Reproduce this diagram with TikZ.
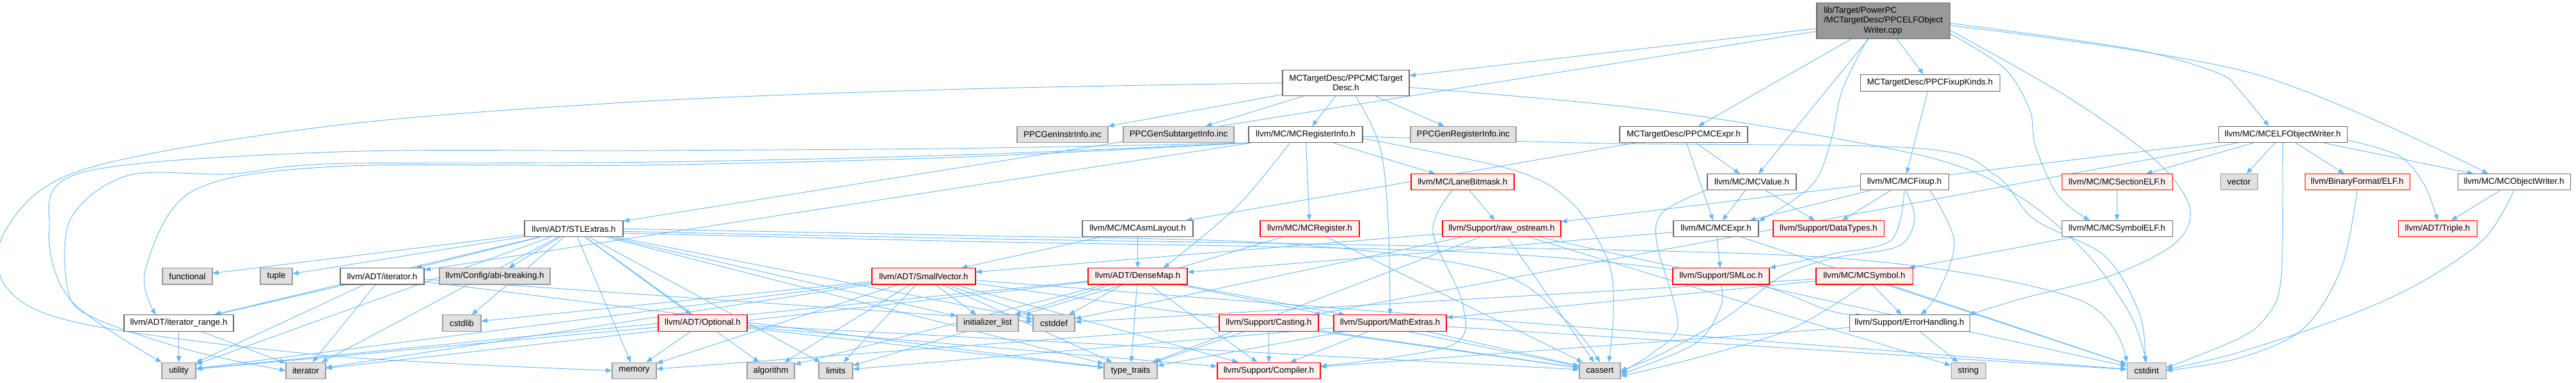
\documentclass[tikz,border=0pt]{standalone}
\usepackage{fontspec}
\setmainfont{Liberation Sans}
\usetikzlibrary{arrows.meta}
\definecolor{eb}{HTML}{63B8FF}
\definecolor{bwhite}{HTML}{666666}
\definecolor{bgray}{HTML}{999999}
\definecolor{fgray}{HTML}{E0E0E0}
\definecolor{fred}{HTML}{FFF0F0}
\definecolor{fmain}{HTML}{999999}
\pgfdeclarelayer{bg}
\pgfsetlayers{bg,main}
\newcommand{\mynode}[7]{\node[#6,minimum width={(#3-#2)*0.75pt},minimum height={(#5-#4)*0.856pt}] (#1) at ({(#2+#3)/2},{(#4+#5)/2}) {#7};}
\begin{document}
\begin{tikzpicture}[x=0.75pt,y=-0.856pt,font=\fontsize{10}{11.4}\selectfont,
 box/.style={rectangle,inner sep=0pt,line width=0.8pt,text=black},
 nwhite/.style={box,draw=bwhite,fill=white},
 ngray/.style={box,draw=bgray,fill=fgray},
 nred/.style={box,draw=red,fill=fred},
 nmain/.style={box,draw=bwhite,fill=fmain},
 e/.style={draw=eb,line width=0.7pt,-{Triangle[length=7pt,width=5.5pt]}},
 sm/.style={smooth,tension=0.55}]
\useasboundingbox (0,0) rectangle (4027,523.2);
% rows
\mynode{main}{2840}{3048}{4}{53}{nmain,align=left}{lib/Target/PowerPC\\/MCTargetDesc/PPCELFObject\\\hspace*{47pt}Writer.cpp}
\mynode{tdesc}{2005}{2203}{96}{131}{nwhite,align=center}{MCTargetDesc/PPCMCTarget\\Desc.h}
\mynode{fixupk}{2908}{3126}{102}{125}{nwhite}{MCTargetDesc/PPCFixupKinds.h}
\mynode{instr}{1590}{1732}{173}{195}{ngray}{PPCGenInstrInfo.inc}
\mynode{subinfo}{1756}{1929}{173}{195}{ngray}{PPCGenSubtargetInfo.inc}
\mynode{reginfo}{1952}{2130}{173}{195}{nwhite}{llvm/MC/MCRegisterInfo.h}
\mynode{genreg}{2205}{2370}{173}{195}{ngray}{PPCGenRegisterInfo.inc}
\mynode{ppcexpr}{2532}{2732}{173}{195}{nwhite}{MCTargetDesc/PPCMCExpr.h}
\mynode{elfw}{3468}{3669}{173}{195}{nwhite}{llvm/MC/MCELFObjectWriter.h}
\mynode{lanebm}{2206}{2367}{238}{260}{nred}{llvm/MC/LaneBitmask.h}
\mynode{mcvalue}{2669}{2808}{238}{260}{nwhite}{llvm/MC/MCValue.h}
\mynode{fixup}{2908}{3046}{238}{260}{nwhite}{llvm/MC/MCFixup.h}
\mynode{sectelf}{3223}{3396}{238}{260}{nred}{llvm/MC/MCSectionELF.h}
\mynode{vector}{3471}{3529}{238}{260}{ngray}{vector}
\mynode{elf}{3603}{3767}{238}{260}{nred}{llvm/BinaryFormat/ELF.h}
\mynode{objw}{3842}{4018}{238}{260}{nwhite}{llvm/MC/MCObjectWriter.h}
\mynode{stl}{820}{974}{302}{324}{nwhite}{llvm/ADT/STLExtras.h}
\mynode{asml}{1692}{1865}{302}{324}{nwhite}{llvm/MC/MCAsmLayout.h}
\mynode{mcreg}{1970}{2125}{302}{324}{nred}{llvm/MC/MCRegister.h}
\mynode{rawos}{2255}{2440}{302}{324}{nred}{llvm/Support/raw\_ostream.h}
\mynode{mcexpr}{2616}{2749}{302}{324}{nwhite}{llvm/MC/MCExpr.h}
\mynode{dtypes}{2772}{2945}{302}{324}{nred}{llvm/Support/DataTypes.h}
\mynode{symelf}{3223}{3396}{302}{324}{nwhite}{llvm/MC/MCSymbolELF.h}
\mynode{triple}{3749}{3872}{302}{324}{nred}{llvm/ADT/Triple.h}
\mynode{functional}{254}{332}{367}{389}{ngray}{functional}
\mynode{tuple}{407}{457}{367}{389}{ngray}{tuple}
\mynode{iterh}{532}{663}{367}{389}{nwhite}{llvm/ADT/iterator.h}
\mynode{abi}{687}{860}{367}{389}{ngray}{llvm/Config/abi-breaking.h}
\mynode{smallvec}{1363}{1525}{367}{389}{nred}{llvm/ADT/SmallVector.h}
\mynode{densemap}{1701}{1856}{367}{389}{nred}{llvm/ADT/DenseMap.h}
\mynode{smloc}{2615}{2766}{367}{389}{nred}{llvm/Support/SMLoc.h}
\mynode{mcsym}{2839}{2990}{367}{389}{nred}{llvm/MC/MCSymbol.h}
\mynode{iterrange}{194}{365}{431}{453}{nwhite}{llvm/ADT/iterator\_range.h}
\mynode{cstdlib}{692}{752}{431}{453}{ngray}{cstdlib}
\mynode{optional}{1029}{1168}{431}{453}{nred}{llvm/ADT/Optional.h}
\mynode{initlist}{1496}{1592}{431}{453}{ngray}{initializer\_list}
\mynode{cstddef}{1615}{1680}{431}{453}{ngray}{cstddef}
\mynode{casting}{1906}{2061}{431}{453}{nred}{llvm/Support/Casting.h}
\mynode{mathext}{2085}{2261}{431}{453}{nred}{llvm/Support/MathExtras.h}
\mynode{errh}{2891}{3079}{431}{453}{nwhite}{llvm/Support/ErrorHandling.h}
\mynode{utility}{253}{306}{496}{518}{ngray}{utility}
\mynode{iterator}{447}{509}{496}{518}{ngray}{iterator}
\mynode{memory}{957}{1026}{496}{518}{ngray}{memory}
\mynode{algorithm}{1168}{1242}{496}{518}{ngray}{algorithm}
\mynode{limits}{1280}{1333}{496}{518}{ngray}{limits}
\mynode{typetraits}{1726}{1809}{496}{518}{ngray}{type\_traits}
\mynode{compiler}{1903}{2064}{496}{518}{nred}{llvm/Support/Compiler.h}
\mynode{cassert}{2469}{2533}{496}{518}{ngray}{cassert}
\mynode{string}{3050}{3104}{496}{518}{ngray}{string}
\mynode{cstdint}{3325}{3386}{496}{518}{ngray}{cstdint}
\begin{pgfonlayer}{bg}
\foreach \a/\b in {main/tdesc,main/stl,main/ppcexpr,main/mcvalue,main/fixupk,
 tdesc/instr,tdesc/subinfo,tdesc/reginfo,tdesc/genreg,
 reginfo/iterh,reginfo/lanebm,reginfo/mcreg,
 ppcexpr/asml,ppcexpr/mcexpr,ppcexpr/mcvalue,fixupk/fixup,
 elfw/elf,elfw/objw,elfw/sectelf,elfw/casting,elfw/rawos,elfw/vector,
 lanebm/rawos,mcvalue/mcexpr,mcvalue/dtypes,fixup/mcexpr,fixup/dtypes,
 asml/densemap,asml/smallvec,mcreg/cassert,mcreg/limits,
 rawos/smallvec,rawos/cassert,rawos/cstdint,rawos/string,rawos/cstddef,rawos/typetraits,
 mcexpr/smloc,mcexpr/densemap,mcexpr/cstdint,symelf/mcsym,sectelf/symelf,objw/triple,
 stl/functional,stl/tuple,stl/iterh,stl/abi,stl/iterrange,stl/cstdlib,stl/optional,stl/utility,
 stl/iterator,stl/memory,stl/algorithm,stl/limits,stl/initlist,stl/cstddef,stl/typetraits,
 smallvec/algorithm,smallvec/limits,smallvec/initlist,smallvec/memory,smallvec/iterator,
 smallvec/utility,smallvec/cstdlib,smallvec/cstddef,smallvec/typetraits,smallvec/compiler,
 smallvec/cassert,smallvec/cstdint,
 densemap/initlist,densemap/cstddef,densemap/typetraits,densemap/compiler,densemap/mathext,
 densemap/cassert,densemap/algorithm,densemap/utility,densemap/iterator,
 optional/memory,optional/utility,optional/typetraits,optional/cassert,optional/compiler,
 iterh/iterrange,iterh/cstddef,iterh/iterator,iterh/typetraits,iterh/utility,
 iterrange/utility,iterrange/iterator,
 casting/compiler,casting/typetraits,casting/cassert,casting/memory,
 mathext/compiler,mathext/cassert,mathext/cstdint,mathext/limits,mathext/typetraits,
 errh/string,errh/compiler,
 mcsym/errh,mcsym/cstdint,mcsym/mathext,mcsym/cstddef}
 {\draw[e] (\a) -- (\b);}
% curved connectors
\draw[e] plot[sm] coordinates {(main.229) (2880,123) (2863,190) (2833,253) (mcexpr.10)};
\draw[e] plot[sm] coordinates {(main.-11) (3133,93) (3173,150) (3182,200) (3217,267) (symelf.163)};
\draw[e] plot[sm] coordinates {(main.-8) (3233,133) (3367,217) (3423,283) (3400,333) (3300,377) (3167,407) (errh.8)};
\draw[e] plot[sm] coordinates {(main.-2) (3333,67) (3467,100) (3500,123) (elfw.149)};
\draw[e] plot[sm] coordinates {(main.-4) (3520,100) (objw.162)};
\draw[e] plot[sm] coordinates {(tdesc.-53) (2157,200) (2170,300) (mathext.north)};
\draw[e] plot[sm] coordinates {(tdesc.-4) (2600,152) (3000,212) (3150,265) (3260,345) (3330,430) (cstdint.north)};
\draw[e] plot[sm] coordinates {(tdesc.west) (1500,122) (1000,139) (520,172) (130,232) (10,313) (10,393) (130,443) (520,487) (memory.west)};
\draw[e] plot[sm] coordinates {(reginfo.south west) (1500,203) (1000,206) (520,208) (128,236) (77,313) (110,410) (utility.north west)};
\draw[e] plot[sm] coordinates {(reginfo.south west) (1500,212) (1000,222) (520,224) (360,238) (200,240) (110,300) (107,400) (150,436) (300,480) (iterator.west)};
\draw[e] plot[sm] coordinates {(reginfo.south west) (1500,215) (1000,226) (520,228) (300,262) (227,370) (iterrange.160)};
\draw[e] plot[sm] coordinates {(reginfo.-4) (2367,233) (2460,280) (2515,360) (2522,430) (cassert.43)};
\draw[e] plot[sm] coordinates {(reginfo.208) (1933,283) (densemap.18)};
\draw[e] plot[sm] coordinates {(reginfo.-2) (2500,196) (3000,203) (3120,240) (3180,300) (3290,350) (3345,430) (cstdint.100)};
\draw[e] plot[sm] coordinates {(elfw.south) (3566,380) (3543,433) (3500,463) (cstdint.8)};
\draw[e] plot[sm] coordinates {(elf.south) (3660,367) (3600,450) (3500,490) (cstdint.east)};
\draw[e] plot[sm] coordinates {(objw.south) (3883,327) (3783,387) (3667,433) (3500,482) (cstdint.3)};
\draw[e] plot[sm] coordinates {(elfw.-5) (3750,213) (3790,253) (triple.north)};
\draw[e] plot[sm] coordinates {(lanebm.219) (2240,317) (2287,417) (2267,473) (compiler.5)};
\draw[e] plot[sm] coordinates {(fixup.south) (2957,328) (2867,347) (smloc.north east)};
\draw[e] plot[sm] coordinates {(fixup.-18) (3055,330) (3030,400) (errh.36)};
\draw[e] plot[sm] coordinates {(fixup.-80) (2993,300) (2967,337) (2867,353) (2787,377) (2700,433) (2600,483) (cassert.east)};
\draw[e] plot[sm] coordinates {(mcvalue.190) (2600,290) (2590,333) (2623,443) (2583,483) (cassert.-5)};
\draw[e] plot[sm] coordinates {(smloc.south) (2690,420) (2650,470) (cassert.-10)};
\draw[e] plot[sm] coordinates {(mcsym.south) (2800,450) (2650,490) (cassert.-15)};
% STLExtras long connectors to the right
\draw[e] plot[sm] coordinates {(stl.east) (1500,322) (2000,333) (2330,370) (2450,440) (cassert.north)};
\draw[e] plot[sm] coordinates {(stl.-3) (1500,326) (2300,338) (2900,355) (3250,410) (cstdint.north west)};
\draw[e] plot[sm] coordinates {(stl.-5) (1500,330) (2300,345) (2700,380) (2860,425) (errh.170)};
\end{pgfonlayer}
\end{tikzpicture}
\end{document}
